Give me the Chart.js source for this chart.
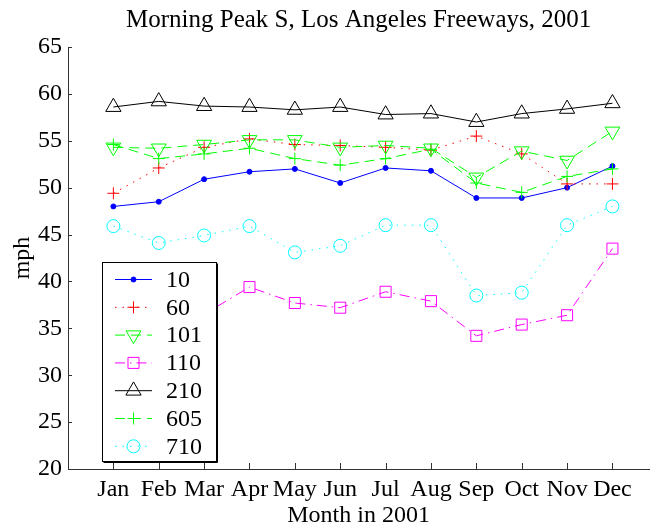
<!DOCTYPE html>
<html>
<head>
<meta charset="utf-8">
<title>Morning Peak S, Los Angeles Freeways, 2001</title>
<script src="https://cdn.jsdelivr.net/npm/chart.js@4/dist/chart.umd.min.js"></script>
<style>
  html, body { margin: 0; padding: 0; background: #fff; }
  canvas { display: block; }
</style>
</head>
<body>
<canvas id="chart" width="659" height="530"></canvas>
<script>
// Morning peak speeds, southbound, per freeway

const months = ['Jan', 'Feb', 'Mar', 'Apr', 'May', 'Jun', 'Jul', 'Aug', 'Sep', 'Oct', 'Nov', 'Dec'];
const yTicks = [20, 25, 30, 35, 40, 45, 50, 55, 60, 65];
const freeways = ['10', '60', '101', '110', '210', '605', '710'];

const fwy10  = [48.0, 48.5, 50.9, 51.7, 52.0, 50.5, 52.1, 51.8, 48.9, 48.9, 50.0, 52.3];
const fwy60  = [49.4, 52.1, 54.3, 55.2, 54.6, 54.5, 54.3, 54.0, 55.5, 53.6, 50.4, 50.4];
const fwy101 = [54.3, 54.2, 54.6, 55.1, 55.1, 54.3, 54.5, 54.2, 51.1, 53.9, 52.9, 56.0];
const fwy110 = [36.0, 35.5, 36.5, 39.4, 37.7, 37.2, 38.9, 37.9, 34.2, 35.4, 36.4, 43.5];
const fwy210 = [58.6, 59.2, 58.7, 58.6, 58.3, 58.6, 57.8, 57.9, 57.0, 57.9, 58.4, 59.0];
const fwy605 = [54.6, 53.1, 53.6, 54.2, 53.1, 52.4, 53.1, 54.1, 50.5, 49.5, 51.2, 52.0];
const fwy710 = [45.9, 44.1, 44.9, 45.9, 43.1, 43.8, 46.0, 46.0, 38.5, 38.8, 46.0, 48.0];

const series = [fwy10, fwy60, fwy101, fwy110, fwy210, fwy605, fwy710];

// line / marker look, matlab style: '.-' ':+' '--v' '-.s' '-^' '--+' ':o'
const looks = [
  { color: '#0000ff', dash: [],              style: 'circle',   r: 2.5, fill: '#0000ff', rot: 0 },
  { color: '#ff0000', dash: [1.5, 6],        style: 'cross',    r: 6,   fill: 'transparent', rot: 0 },
  { color: '#00ff00', dash: [10, 6],         style: 'triangle', r: 8.5, fill: 'transparent', rot: 180 },
  { color: '#ff00ff', dash: [10, 5, 1.5, 5], style: 'rect',     r: 7.8, fill: 'transparent', rot: 0 },
  { color: '#000000', dash: [],              style: 'triangle', r: 8.8, fill: 'transparent', rot: 0 },
  { color: '#00ff00', dash: [10, 6],         style: 'cross',    r: 6,   fill: 'transparent', rot: 0 },
  { color: '#00ffff', dash: [1.5, 6],        style: 'circle',   r: 6.5, fill: 'transparent', rot: 0 },
];

const FONT = "'Liberation Serif', 'Times New Roman', serif";
Chart.defaults.font.family = FONT;
Chart.defaults.font.size = 24;
Chart.defaults.color = '#000';

const datasets = series.map((vals, i) => {
  const lk = looks[i];
  return {
    label: freeways[i],
    data: vals.map((v, j) => ({ x: j + 1, y: v })),
    borderColor: lk.color,
    borderWidth: 1,
    borderDash: lk.dash,
    backgroundColor: lk.fill,
    pointStyle: lk.style,
    pointRadius: lk.r,
    pointRotation: lk.rot,
    pointBorderColor: lk.color,
    pointBackgroundColor: lk.fill,
    pointBorderWidth: 1,
    tension: 0,
    fill: false,
    order: -i, // later series drawn on top, like matlab
  };
});

// inward tick marks
const tickMarks = {
  id: 'tickMarks',
  afterDatasetsDraw(chart) {
    const { ctx, chartArea: a, scales: { x, y } } = chart;
    ctx.save();
    ctx.strokeStyle = '#333';
    ctx.lineWidth = 1;
    ctx.beginPath();
    months.forEach((m, i) => {
      const px = Math.round(x.getPixelForValue(i + 1)) + 0.5;
      ctx.moveTo(px, a.bottom);
      ctx.lineTo(px, a.bottom - 6);
    });
    yTicks.forEach(v => {
      const py = Math.round(y.getPixelForValue(v)) + 0.5;
      ctx.moveTo(a.left, py);
      ctx.lineTo(a.left + 4, py);
    });
    ctx.stroke();
    ctx.restore();
  }
};

// boxed legend inside the axes, drawn over the lines
const boxLegend = {
  id: 'boxLegend',
  afterDraw(chart) {
    const { ctx, chartArea: a } = chart;
    const bx = a.left + 34, by = a.top + 215, bw = 114, bh = 199;
    ctx.save();
    ctx.fillStyle = '#fff';
    ctx.fillRect(bx, by, bw, bh);
    ctx.strokeStyle = '#000';
    ctx.lineWidth = 1;
    ctx.strokeRect(bx + 0.5, by + 0.5, bw, bh);
    ctx.beginPath();
    ctx.moveTo(bx + 1.5, by + bh + 1.5);
    ctx.lineTo(bx + bw + 1.5, by + bh + 1.5);
    ctx.lineTo(bx + bw + 1.5, by + 1.5);
    ctx.stroke();

    chart.data.datasets.forEach((ds, i) => {
      const yy = by + 17.5 + i * 27.8;
      ctx.strokeStyle = ds.borderColor;
      ctx.lineWidth = 1;
      ctx.setLineDash(ds.borderDash);
      ctx.beginPath();
      ctx.moveTo(bx + 13, yy);
      ctx.lineTo(bx + 50, yy);
      ctx.stroke();
      ctx.setLineDash([]);
      ctx.fillStyle = ds.pointBackgroundColor;
      if (Chart.helpers && Chart.helpers.drawPoint) {
        Chart.helpers.drawPoint(ctx, {
          pointStyle: ds.pointStyle,
          rotation: ds.pointRotation,
          radius: ds.pointRadius,
          borderWidth: 1,
        }, bx + 31.5, yy);
      }
      ctx.fillStyle = '#000';
      ctx.font = '24px ' + FONT;
      ctx.textAlign = 'left';
      ctx.textBaseline = 'middle';
      ctx.fillText(ds.label, bx + 64, yy + 1);
    });
    ctx.restore();
  }
};

new Chart(document.getElementById('chart'), {
  type: 'line',
  data: { datasets },
  options: {
    responsive: false,
    animation: false,
    events: [],
    layout: { padding: 0 },
    plugins: {
      legend: { display: false },
      tooltip: { enabled: false },
      title: {
        display: true,
        text: 'Morning Peak S, Los Angeles Freeways, 2001',
        fullSize: false,
        color: '#000',
        font: { size: 25, weight: 'normal', family: FONT },
        padding: { top: 5, bottom: 12 },
      },
    },
    scales: {
      x: {
        type: 'linear',
        min: 0,
        max: 12.81,
        grid: { display: false, drawTicks: false },
        border: { display: true, color: '#333', width: 1 },
        afterBuildTicks: (s) => { s.ticks = months.map((m, i) => ({ value: i + 1 })); },
        afterFit: (s) => { s.height = 61; },
        ticks: {
          autoSkip: false,
          maxRotation: 0,
          padding: 6,
          color: '#000',
          callback: (v) => months[v - 1] || '',
        },
        title: { display: true, text: 'Month in 2001', color: '#000', padding: { top: 0, bottom: 0 } },
      },
      y: {
        min: 20,
        max: 65,
        grid: { display: false, drawTicks: false },
        border: { display: true, color: '#333', width: 1 },
        afterBuildTicks: (s) => { s.ticks = yTicks.map(v => ({ value: v })); },
        afterFit: (s) => { s.width = 68; },
        ticks: { padding: 6, color: '#000', callback: (v) => String(v) },
        title: { display: true, text: 'mph', color: '#000', padding: { top: 8, bottom: 0 } },
      },
    },
  },
  plugins: [tickMarks, boxLegend],
});
</script>
</body>
</html>
